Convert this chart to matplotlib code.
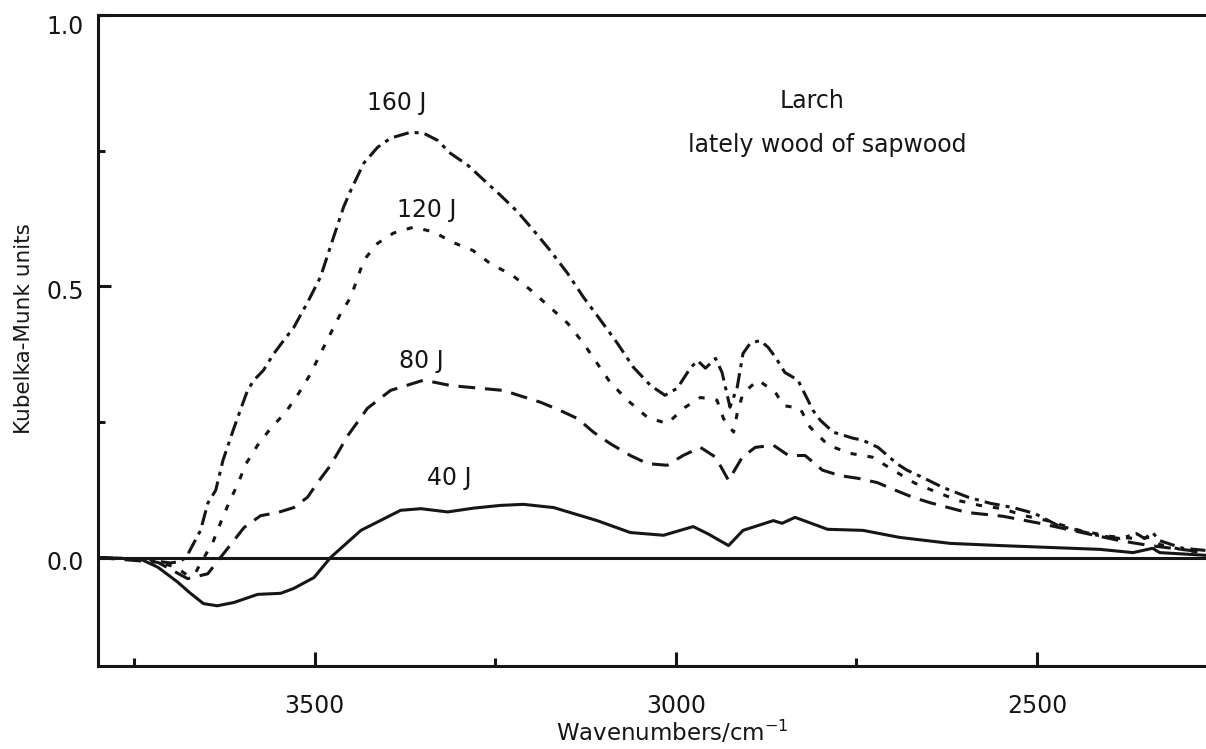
import numpy as np
import matplotlib
matplotlib.use("Agg")
import matplotlib.pyplot as plt
import matplotlib.transforms as mtrans
from matplotlib.ticker import FixedLocator

# 40 J (solid)
wn_40 = [3800, 3741, 3717, 3690, 3672, 3654, 3635, 3612, 3579, 3547, 3529, 3501, 3478,
         3436, 3381, 3353, 3316, 3280, 3243, 3211, 3169, 3109, 3063, 3017, 2976, 2956,
         2927, 2907, 2865, 2853, 2835, 2790, 2741, 2690, 2620, 2551, 2413, 2367, 2340,
         2330, 2266]
km_40 = [0.000, -0.003, -0.018, -0.045, -0.066, -0.085, -0.089, -0.083, -0.068, -0.066,
         -0.057, -0.037, 0.000, 0.050, 0.087, 0.090, 0.084, 0.091, 0.096, 0.098, 0.092,
         0.068, 0.046, 0.041, 0.057, 0.044, 0.022, 0.050, 0.068, 0.063, 0.074, 0.052,
         0.050, 0.037, 0.026, 0.022, 0.015, 0.009, 0.017, 0.009, 0.004]

# 80 J (dashed)
wn_80 = [3800, 3717, 3676, 3648, 3634, 3612, 3598, 3575, 3551, 3529, 3510, 3496, 3478,
         3454, 3427, 3395, 3349, 3312, 3288, 3239, 3187, 3160, 3136, 3114, 3091, 3063,
         3039, 3012, 2990, 2966, 2945, 2927, 2908, 2890, 2865, 2844, 2821, 2797, 2773,
         2748, 2721, 2696, 2672, 2648, 2597, 2547, 2496, 2431, 2385, 2344, 2288, 2266]
km_80 = [0.000, -0.009, -0.039, -0.030, -0.006, 0.031, 0.055, 0.077, 0.083, 0.092,
         0.111, 0.138, 0.170, 0.225, 0.275, 0.308, 0.327, 0.317, 0.314, 0.308, 0.286,
         0.271, 0.256, 0.231, 0.210, 0.188, 0.173, 0.170, 0.188, 0.203, 0.185, 0.142,
         0.185, 0.203, 0.207, 0.188, 0.188, 0.161, 0.151, 0.146, 0.138, 0.124, 0.111,
         0.101, 0.083, 0.076, 0.063, 0.044, 0.031, 0.022, 0.013, 0.009]

# 120 J (dotted)
wn_120 = [3800, 3727, 3692, 3676, 3665, 3658, 3641, 3630, 3619, 3606, 3595, 3579, 3561,
          3540, 3522, 3506, 3492, 3478, 3464, 3450, 3432, 3413, 3391, 3363, 3335, 3309,
          3281, 3257, 3226, 3201, 3174, 3150, 3128, 3109, 3091, 3067, 3039, 3012, 2987,
          2966, 2943, 2934, 2920, 2915, 2907, 2886, 2862, 2851, 2828, 2814, 2789, 2759,
          2728, 2699, 2669, 2638, 2609, 2579, 2548, 2517, 2486, 2441, 2399, 2364, 2344,
          2330, 2295, 2266]
km_120 = [0.000, -0.004, -0.018, -0.033, -0.028, -0.011, 0.028, 0.065, 0.100, 0.137,
          0.173, 0.207, 0.238, 0.268, 0.303, 0.338, 0.376, 0.413, 0.450, 0.480, 0.548,
          0.579, 0.598, 0.609, 0.600, 0.581, 0.566, 0.542, 0.520, 0.493, 0.461, 0.432,
          0.395, 0.358, 0.323, 0.290, 0.258, 0.247, 0.277, 0.295, 0.290, 0.256, 0.231,
          0.266, 0.303, 0.327, 0.304, 0.280, 0.275, 0.240, 0.207, 0.192, 0.185, 0.161,
          0.137, 0.120, 0.105, 0.096, 0.090, 0.077, 0.068, 0.050, 0.039, 0.035, 0.037,
          0.024, 0.013, 0.009]

# 160 J (dash-dot)
wn_160 = [3800, 3740, 3700, 3688, 3678, 3658, 3648, 3637, 3627, 3613, 3602, 3593, 3584,
          3571, 3557, 3543, 3529, 3510, 3492, 3474, 3460, 3450, 3432, 3413, 3395, 3367,
          3349, 3330, 3312, 3288, 3266, 3243, 3219, 3197, 3174, 3150, 3128, 3104, 3081,
          3059, 3035, 3015, 2998, 2980, 2970, 2959, 2945, 2936, 2925, 2915, 2907, 2897,
          2883, 2872, 2862, 2849, 2831, 2810, 2800, 2782, 2755, 2741, 2720, 2694, 2680,
          2659, 2630, 2595, 2565, 2533, 2503, 2471, 2417, 2385, 2362, 2351, 2340, 2330,
          2298, 2266]
km_160 = [0.000, -0.003, -0.010, -0.008, 0.000, 0.050, 0.100, 0.124, 0.179, 0.234,
          0.275, 0.308, 0.327, 0.345, 0.375, 0.400, 0.424, 0.470, 0.517, 0.590, 0.646,
          0.677, 0.727, 0.756, 0.773, 0.784, 0.782, 0.769, 0.745, 0.723, 0.696, 0.668,
          0.637, 0.603, 0.566, 0.524, 0.480, 0.437, 0.395, 0.351, 0.317, 0.299, 0.312,
          0.349, 0.363, 0.349, 0.367, 0.341, 0.277, 0.314, 0.376, 0.395, 0.400, 0.387,
          0.369, 0.341, 0.327, 0.271, 0.253, 0.231, 0.220, 0.216, 0.203, 0.173, 0.161,
          0.148, 0.129, 0.111, 0.100, 0.092, 0.081, 0.059, 0.041, 0.035, 0.044, 0.035,
          0.046, 0.031, 0.017, 0.013]

curve_labels = ["40 J", "80 J", "120 J", "160 J"]
label_pos = [(3313, 0.146), (3352, 0.363), (3345, 0.640), (3387, 0.838)]

ink = "#161616"
fs = 17

fig = plt.figure(figsize=(12.06, 7.49), dpi=100)
ax = fig.add_axes([98 / 1206, 83 / 749, 1108 / 1206, 651 / 749])

ax.plot(wn_40, km_40, color=ink, lw=2.2, solid_joinstyle="round")
ax.plot(wn_80, km_80, color=ink, lw=2.2, dashes=(5.5, 3.2))
ax.plot(wn_120, km_120, color=ink, lw=2.2, dashes=(2.0, 3.6))
ax.plot(wn_160, km_160, color=ink, lw=2.2, dashes=(5.0, 2.0, 1.3, 2.0))
ax.axhline(0, color=ink, lw=2.2)

for txt, (xx, yy) in zip(curve_labels, label_pos):
    ax.text(xx, yy, txt, ha="center", va="center", fontsize=fs, color=ink)
ax.text(2811, 0.841, "Larch", ha="center", va="center", fontsize=fs, color=ink)
ax.text(2790, 0.760, "lately wood of sapwood", ha="center", va="center",
        fontsize=fs, color=ink)

ax.set_xlim(3800, 2266)
ax.set_ylim(-0.2, 1.0)

ax.xaxis.set_major_locator(FixedLocator([3500, 3000, 2500]))
ax.xaxis.set_minor_locator(FixedLocator([3750, 3250, 2750]))
ax.yaxis.set_major_locator(FixedLocator([0.0, 0.5, 1.0]))
ax.yaxis.set_minor_locator(FixedLocator([0.25, 0.75]))
ax.set_yticklabels(["0.0", "0.5", "1.0"])

ax.tick_params(which="both", direction="in", width=2.2, color=ink,
               labelsize=fs, labelcolor=ink, top=False, right=False)
ax.tick_params(axis="x", which="major", length=10, pad=20)
ax.tick_params(axis="x", which="minor", length=5.5)
ax.tick_params(axis="y", which="major", length=9.5, pad=10)
ax.tick_params(axis="y", which="minor", length=5)

# y labels sit a little below their ticks in the original
for lab, dy in zip(ax.get_yticklabels(), [-3, -3, -10]):
    lab.set_transform(lab.get_transform() +
                      mtrans.ScaledTranslation(0, dy / 100, fig.dpi_scale_trans))

for side in ["left", "bottom", "top"]:
    ax.spines[side].set_linewidth(2.2)
    ax.spines[side].set_color(ink)
ax.spines["right"].set_visible(False)

ax.set_xlabel("Wavenumbers/cm$^{-1}$", fontsize=16.5, color=ink)
ax.set_ylabel("Kubelka-Munk units", fontsize=15.5, color=ink)
ax.xaxis.set_label_coords(0.518, -0.081)
ax.yaxis.set_label_coords(-0.058, 0.518)

fig.savefig("out.png", dpi=100)
